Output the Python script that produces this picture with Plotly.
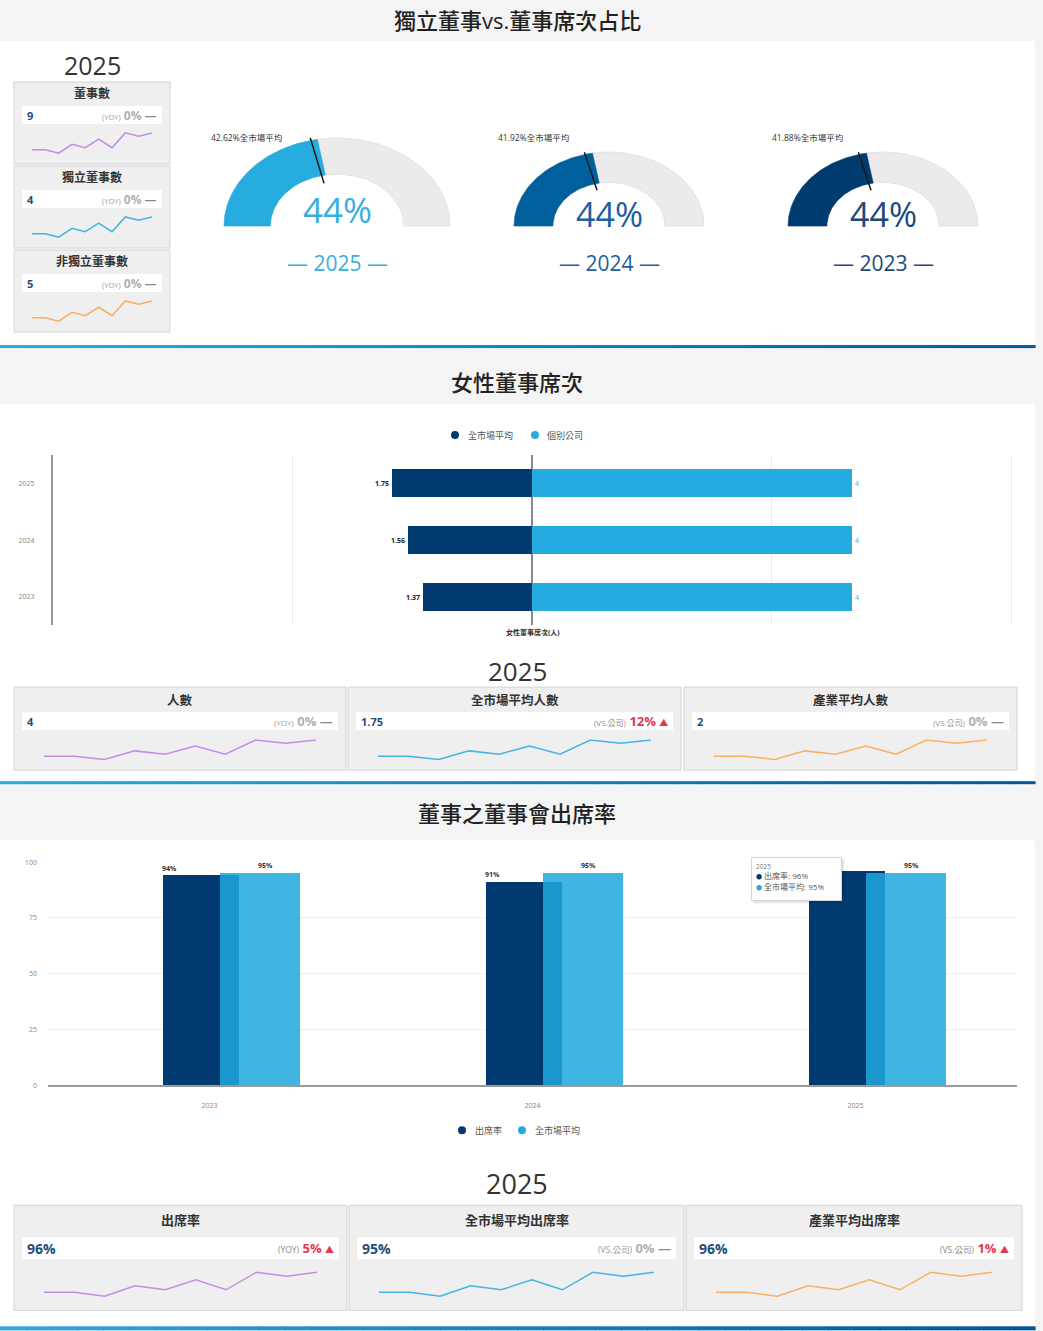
import numpy as np
import plotly.graph_objects as go

W, H = 1043, 1331
FONT = "Open Sans, Noto Sans CJK TC, sans-serif"

# ---------------- data ----------------
gauge_years = ["2025", "2024", "2023"]
gauge_independent_ratio = [44.44, 44.44, 44.44]
gauge_market_avg = [42.62, 41.92, 41.88]

board_titles = ["董事數", "獨立董事數", "非獨立董事數"]
board_values = ["9", "4", "5"]
board_labels = ["(YOY)", "(YOY)", "(YOY)"]
board_change = [0, 0, 0]

female_years = ["2023", "2024", "2025"]
female_market_avg = [1.37, 1.56, 1.75]
female_company = [4, 4, 4]
female_series = ["全市場平均", "個別公司"]
female_titles = ["人數", "全市場平均人數", "產業平均人數"]
female_values = ["4", "1.75", "2"]
female_labels = ["(YOY)", "(VS.公司)", "(VS.公司)"]
female_change = [0, 12, 0]

attend_years = ["2023", "2024", "2025"]
attend_rate = [94, 91, 96]
attend_market = [95, 95, 95]
attend_series = ["出席率", "全市場平均"]
attend_titles = ["出席率", "全市場平均出席率", "產業平均出席率"]
attend_values = ["96%", "95%", "96%"]
attend_labels = ["(YOY)", "(VS.公司)", "(VS.公司)"]
attend_change = [5, 0, 1]

spark_purple = [14, 14, 6, 27, 19, 39, 19, 54, 46, 54]
spark_blue = [14, 14, 6, 27, 19, 39, 19, 54, 46, 54]
spark_orange = [14, 14, 6, 27, 19, 39, 19, 54, 46, 54]

DARK = "#003a70"
LIGHT = "#25abdf"

# ---------------- helpers ----------------
Y_OFF, Y_SCALE = 5.0, 0.993


def fx(px):
    return px / W


def fy(py):
    return 1 - ((py - Y_OFF) / Y_SCALE) / H


fig = go.Figure()
axes = {}
_n = [0]


def add_axes(x0, x1, y0, y1, xopts=None, yopts=None):
    _n[0] += 1
    s = "" if _n[0] == 1 else str(_n[0])
    xd = dict(domain=[max(0, fx(x0)), min(1, fx(x1))], anchor="y" + s,
              visible=False, fixedrange=True)
    yd = dict(domain=[max(0, fy(y1)), min(1, fy(y0))], anchor="x" + s,
              visible=False, fixedrange=True)
    if xopts:
        xd.update(xopts)
    if yopts:
        yd.update(yopts)
    axes["xaxis" + s] = xd
    axes["yaxis" + s] = yd
    return "x" + s, "y" + s


shapes = []


def rect(x0, y0, x1, y1, fill, line=None, lw=1, layer="below"):
    shapes.append(dict(type="rect", xref="paper", yref="paper",
                       x0=fx(x0), x1=fx(x1), y0=fy(y1), y1=fy(y0),
                       fillcolor=fill,
                       line=dict(width=lw if line else 0, color=line or fill),
                       layer=layer))


def dot(cx, cy, r, color):
    shapes.append(dict(type="circle", xref="paper", yref="paper",
                       x0=fx(cx - r), x1=fx(cx + r), y0=fy(cy + r), y1=fy(cy - r),
                       fillcolor=color, line=dict(width=0), layer="above"))


annotations = []


def text(x, y, s, size, color="#333", xanchor="center", yanchor="middle", weight=None, **kw):
    f = dict(size=size, color=color, family=FONT)
    if weight:
        f["weight"] = weight
    annotations.append(dict(x=fx(x), y=fy(y), xref="paper", yref="paper", text=s,
                            showarrow=False, font=f,
                            xanchor=xanchor, yanchor=yanchor, **kw))


def grad_line(y0, y1, x0=0, x1=1035, c0=(42, 170, 224), c1=(0, 88, 154), n=40):
    for i in range(n):
        t = i / (n - 1)
        c = tuple(int(c0[k] + (c1[k] - c0[k]) * t) for k in range(3))
        rect(x0 + (x1 - x0) * i / n, y0, x0 + (x1 - x0) * (i + 1) / n + 0.6, y1,
             fill="rgb(%d,%d,%d)" % c)


def arc_poly(a0, a1, r_in, r_out, n=90):
    t = np.linspace(a0, a1, n)
    xo, yo = r_out * np.cos(t), r_out * np.sin(t)
    ti = t[::-1]
    xi, yi = r_in * np.cos(ti), r_in * np.sin(ti)
    return (np.concatenate([xo, xi, xo[:1]]), np.concatenate([yo, yi, yo[:1]]))


def change_html(label, change, lsize):
    if change > 0:
        return ("<span style='font-size:%gpx;color:#8a8a8a'>%s</span> "
                "<b><span style='color:#e5364e'>%d%%</span></b> "
                "<span style='font-size:9px;color:#e5364e'>▲</span>" % (lsize, label, change))
    return ("<span style='font-size:%gpx;color:#9a9a9a'>%s</span> "
            "<b><span style='color:#b0b0b0'>%d%%</span></b> "
            "<b><span style='color:#8a8a8a'>—</span></b>" % (lsize, label, change))


def kpi_card(x0, y0, x1, y1, title, value, label, change, spark, color,
             t_off, b0, b1, s0, s1, sx_in, tsize, vsize, csize, lsize):
    rect(x0, y0, x1, y1, fill="#efefef", line="#d3d3d3")
    rect(x0 + 8, y0 + b0, x1 - 8, y0 + b1, fill="#ffffff")
    text((x0 + x1) / 2, y0 + t_off, "<b>%s</b>" % title, tsize, "#333")
    text(x0 + 11, y0 + (b0 + b1) / 2, "<b>%s</b>" % value, vsize, "#1f4e79",
         xanchor="left")
    text(x1 - 11, y0 + (b0 + b1) / 2, change_html(label, change, lsize), csize, "#999",
         xanchor="right")
    xa, ya = add_axes(x0 + sx_in, x1 - sx_in, y0 + s0 - 2, y0 + s1 + 2,
                      dict(range=[0, len(spark) - 1]),
                      dict(range=[min(spark) - 2, max(spark) + 2]))
    fig.add_trace(go.Scatter(x=list(range(len(spark))), y=spark, mode="lines",
                             line=dict(color=color, width=1.5),
                             xaxis=xa, yaxis=ya, hoverinfo="skip", showlegend=False))


# ---------------- backgrounds ----------------
rect(0, 41, 1035, 345, fill="#ffffff")
rect(0, 404, 1035, 781, fill="#ffffff")
rect(0, 840, 1035, 1326, fill="#ffffff")
grad_line(345, 348)
grad_line(781, 784)
grad_line(1326, 1330)

# ---------------- section titles ----------------
text(517, 20, "獨立董事vs.董事席次占比", 22, "#222", weight=500)
text(517, 382, "女性董事席次", 22, "#222", weight=500)
text(517, 813, "董事之董事會出席率", 22, "#222", weight=500)
text(92, 65, "2025", 25, "#333")
text(517, 671, "2025", 26, "#333")
text(517, 1183, "2025", 27, "#333")

# ---------------- left board cards ----------------
spark_cols = [("#c48ce6", spark_purple), ("#45b3e3", spark_blue), ("#f8b062", spark_orange)]
for i, y0 in enumerate([82, 166, 250]):
    kpi_card(14, y0, 170, y0 + 82, board_titles[i], board_values[i], board_labels[i],
             board_change[i], spark_cols[i][1], spark_cols[i][0],
             11, 24, 42, 52, 70, 18, 12, 11, 12, 7.5)

# ---------------- gauges ----------------
gauge_geo = [(337, 226, 113, 88), (609, 226, 95, 74), (883, 226, 95, 74)]
gauge_colors = ["#27ace0", "#00609e", "#003b6f"]
gauge_text_colors = ["#3aaee0", "#1f5f9c", "#1d4a7a"]
gauge_text_y = [209, 214, 214]
gauge_text_size = [35, 34, 34]
R_IN = 0.59
for i, (cx, base, rh, rv) in enumerate(gauge_geo):
    xa, ya = add_axes(cx - 1.08 * rh, cx + 1.08 * rh, base - 1.08 * rv, base + 0.03 * rv,
                      dict(range=[-1.08, 1.08]), dict(range=[-0.03, 1.08]))
    bx, by = arc_poly(np.pi, 0, R_IN, 1)
    fig.add_trace(go.Scatter(x=bx, y=by, fill="toself", fillcolor="#ebebeb", mode="lines",
                             line=dict(color="#e3e3e3", width=1), xaxis=xa, yaxis=ya,
                             hoverinfo="skip", showlegend=False))
    v = gauge_independent_ratio[i]
    ang = np.pi * (1 - v / 100)
    vx, vy = arc_poly(np.pi, ang, R_IN, 1)
    fig.add_trace(go.Scatter(x=vx, y=vy, fill="toself", fillcolor=gauge_colors[i], mode="lines",
                             line=dict(color=gauge_colors[i], width=0.5), xaxis=xa, yaxis=ya,
                             hoverinfo="skip", showlegend=False))
    m = gauge_market_avg[i]
    am = np.pi * (1 - m / 100)
    fig.add_trace(go.Scatter(x=[0.5 * np.cos(am), 1.03 * np.cos(am)],
                             y=[0.5 * np.sin(am), 1.03 * np.sin(am)], mode="lines",
                             line=dict(color="#1a1a1a", width=1.5), xaxis=xa, yaxis=ya,
                             hoverinfo="skip", showlegend=False))
    text(cx, gauge_text_y[i], "%d%%" % round(v), gauge_text_size[i], gauge_text_colors[i])
    text(cx, 263, "— %s —" % gauge_years[i], 21, gauge_text_colors[i])
    text(cx - 0.8 * rh, 137, "%.2f%%全市場平均" % m, 8.5, "#333")

# ---------------- female directors horizontal bar ----------------
xa, ya = add_axes(53, 1013, 455, 625,
                  dict(visible=True, range=[-6, 6.02], dtick=3, tick0=0, showgrid=True,
                       gridcolor="#ececec", gridwidth=1, zeroline=True,
                       zerolinecolor="#8a8a8a", zerolinewidth=2, showticklabels=False,
                       showline=False, ticks=""),
                  dict(visible=True, type="category", categoryorder="array",
                       categoryarray=female_years, showline=True, linecolor="#9a9a9a",
                       linewidth=2, showgrid=False, zeroline=False, ticks="",
                       tickfont=dict(size=7, color="#888", family=FONT),
                       ticklabelstandoff=15))
fig.add_trace(go.Bar(y=female_years, x=[-v for v in female_market_avg], orientation="h",
                     marker=dict(color=DARK, line=dict(width=0)), width=0.49,
                     text=["%.2f" % v for v in female_market_avg],
                     texttemplate="<b>%{text}</b>", textposition="outside",
                     textfont=dict(size=7, color="#222", family=FONT), cliponaxis=False,
                     xaxis=xa, yaxis=ya, hoverinfo="skip", showlegend=False))
fig.add_trace(go.Bar(y=female_years, x=female_company, orientation="h",
                     marker=dict(color=LIGHT, line=dict(width=0)), width=0.49,
                     text=[str(v) for v in female_company],
                     textposition="outside",
                     textfont=dict(size=7, color="#3aaee0", family=FONT), cliponaxis=False,
                     xaxis=xa, yaxis=ya, hoverinfo="skip", showlegend=False))
# legend (manual)
dot(455, 435, 4, DARK)
text(466, 435, female_series[0], 9, "#555", xanchor="left")
dot(535, 435, 4, LIGHT)
text(545, 435, female_series[1], 9, "#555", xanchor="left")
text(533, 632, "<b>女性董事席次(人)</b>", 7, "#333")

for i, x0 in enumerate([(14, 346), (348, 681), (684, 1017)]):
    kpi_card(x0[0], 687, x0[1], 770, female_titles[i], female_values[i], female_labels[i],
             female_change[i], spark_cols[i][1], spark_cols[i][0],
             13, 25, 43, 54, 71, 30, 12.5, 11, 13, 8)

# ---------------- attendance column chart ----------------
xa, ya = add_axes(48, 1017, 862, 1085,
                  dict(visible=True, range=[-0.5, 2.5], tickvals=[0, 1, 2],
                       ticktext=attend_years, showgrid=False, zeroline=False,
                       showline=True, linecolor="#9a9a9a", linewidth=2, ticks="",
                       tickfont=dict(size=7, color="#888", family=FONT),
                       ticklabelstandoff=12),
                  dict(visible=True, range=[0, 100], dtick=25, showgrid=True,
                       gridcolor="#eeeeee", zeroline=False, showline=False, ticks="",
                       tickfont=dict(size=7, color="#888", family=FONT),
                       ticklabelstandoff=10))
xs = list(range(len(attend_years)))
fig.add_trace(go.Bar(x=xs, y=attend_rate, offset=-0.1455, width=0.238,
                     marker=dict(color=DARK, line=dict(width=0)),
                     xaxis=xa, yaxis=ya, hoverinfo="skip", showlegend=False))
fig.add_trace(go.Bar(x=xs, y=attend_market, offset=0.034, width=0.245,
                     marker=dict(color="#1ea8dc", line=dict(width=0)), opacity=0.85,
                     xaxis=xa, yaxis=ya, hoverinfo="skip", showlegend=False))
for i in xs:
    annotations.append(dict(x=i, y=attend_rate[i], xref=xa, yref=ya, text="<b>%d%%</b>" % attend_rate[i],
                            showarrow=False, xshift=-40, yshift=1, yanchor="bottom",
                            font=dict(size=7, color="#333", family=FONT)))
    annotations.append(dict(x=i, y=attend_market[i], xref=xa, yref=ya, text="<b>%d%%</b>" % attend_market[i],
                            showarrow=False, xshift=56, yshift=1, yanchor="bottom",
                            font=dict(size=7, color="#333", family=FONT)))
# legend (manual)
dot(462, 1130, 4, DARK)
text(473, 1130, attend_series[0], 9, "#555", xanchor="left")
dot(522, 1130, 4, LIGHT)
text(533, 1130, attend_series[1], 9, "#555", xanchor="left")

# tooltip (drawn after bar labels so it covers them)
rect(753, 859, 844, 903, fill="rgba(0,0,0,0.10)", layer="above")
tip = ("<span style='font-size:6.5px;color:#777'>%s</span><br>"
       "<span style='font-size:6px;color:%s'>●</span> %s: %d%%<br>"
       "<span style='font-size:6px;color:%s'>●</span> %s: %d%%"
       % (attend_years[-1], DARK, attend_series[0], attend_rate[-1],
          LIGHT, attend_series[1], attend_market[-1]))
annotations.append(dict(x=fx(751), y=fy(857), xref="paper", yref="paper", text=tip,
                        showarrow=False, xanchor="left", yanchor="top", align="left",
                        valign="top", width=81, height=34, borderpad=4, borderwidth=1,
                        bgcolor="#ffffff", bordercolor="#d5d5d5",
                        font=dict(size=8, color="#555", family=FONT)))

for i, x0 in enumerate([(14, 347), (349, 684), (686, 1022)]):
    kpi_card(x0[0], 1205, x0[1], 1310, attend_titles[i], attend_values[i], attend_labels[i],
             attend_change[i], spark_cols[i][1], spark_cols[i][0],
             15, 32, 54, 68, 90, 30, 13, 14, 13, 8.5)

# ---------------- layout ----------------
fig.update_layout(
    width=W, height=H, autosize=False,
    margin=dict(l=0, r=0, t=0, b=0, pad=0),
    paper_bgcolor="#f4f4f4", plot_bgcolor="rgba(0,0,0,0)",
    font=dict(family=FONT, color="#333"),
    barmode="overlay", bargap=0,
    shapes=shapes, annotations=annotations,
    showlegend=False,
    hovermode=False,
    **axes,
)

fig.write_html("out.html", config={"displayModeBar": False},
               post_script="document.body.style.margin='0';document.body.style.overflow='hidden';")
